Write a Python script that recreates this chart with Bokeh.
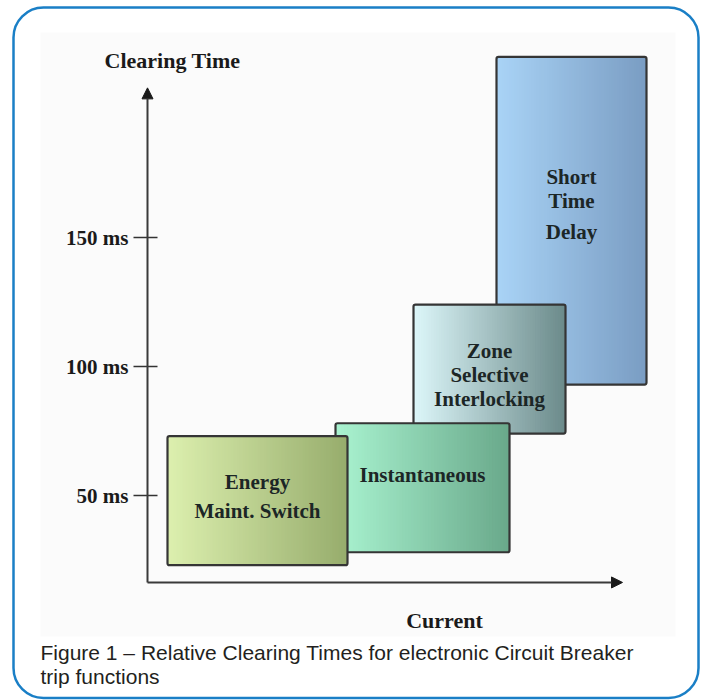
import numpy as np
from bokeh.plotting import figure
from bokeh.models import ColumnDataSource, Range1d, Arrow, NormalHead, BoxAnnotation
from bokeh.core.properties import value
from bokeh.embed import file_html
from bokeh.resources import INLINE

# ---------------- data ----------------
box_names = ["Short Time Delay", "Zone Selective Interlocking", "Instantaneous", "Energy Maint. Switch"]
label_lines = [["Short", "Time", "Delay"],
               ["Zone", "Selective", "Interlocking"],
               ["Instantaneous"],
               ["Energy", "Maint. Switch"]]
current_start = [34.9, 26.6, 18.8, 2.0]      # relative current units
current_end = [49.9, 41.8, 36.2, 20.0]
time_min_ms = [93, 74, 28, 23]
time_max_ms = [220, 124, 78, 73]
time_ticks_ms = [50, 100, 150]
tick_labels = ["50 ms", "100 ms", "150 ms"]
time_axis_min = 16.3
time_axis_max = 208.0
current_axis_max = 47.5
y_axis_title = "Clearing Time"
x_axis_title = "Current"
caption = ["Figure 1 \u2013 Relative Clearing Times for electronic Circuit Breaker",
           "trip functions"]

# ---------------- styles / layout ----------------
left_colors = ["#a9d3f6", "#dcf6f9", "#a9f3d0", "#dcefae"]
right_colors = ["#7a9dc3", "#6c8b8b", "#6aa98b", "#97ad6d"]
label_offsets_px = [[-27, -3, 28], [-24, 0, 24], [0], [-14.5, 14.5]]
label_center_shift_px = [-17, 6, -13, -4]

FIG_W, FIG_H = 704, 700
PAGE = 0
X0_PX, PX_PER_UNIT = 147.0, 10.0
Y100_PX, PX_PER_MS = 366.0, 2.58


def cx(px):
    return (px - X0_PX) / PX_PER_UNIT


def cy(py):
    return 100.0 + (Y100_PX - py) / PX_PER_MS


p = figure(width=FIG_W, height=FIG_H, output_backend="svg", toolbar_location=None,
           x_range=Range1d(cx(PAGE), cx(PAGE + FIG_W)),
           y_range=Range1d(cy(PAGE + FIG_H), cy(PAGE)),
           min_border=0, min_border_left=0, min_border_right=0,
           min_border_top=0, min_border_bottom=0)
p.axis.visible = False
p.grid.visible = False
p.outline_line_color = None
p.background_fill_color = "white"
p.border_fill_color = "white"

# picture panel + rounded frame
p.add_layout(BoxAnnotation(left=cx(40), right=cx(675), top=cy(32), bottom=cy(636),
                           fill_color="#fbfbfb", fill_alpha=1, line_color=None, level="underlay"))
p.add_layout(BoxAnnotation(left=cx(13), right=cx(698), top=cy(7), bottom=cy(697.5),
                           fill_alpha=0, line_color="#1a7fc6", line_alpha=1, line_width=2.5,
                           border_radius=30, level="underlay"))


def hex2rgb(h):
    h = h.lstrip("#")
    return np.array([int(h[i:i + 2], 16) for i in (0, 2, 4)], dtype=float)


N = 60
for i in range(len(box_names)):
    x0, x1 = current_start[i], current_end[i]
    edges = np.linspace(x0, x1, N + 1)
    c0, c1 = hex2rgb(left_colors[i]), hex2rgb(right_colors[i])
    t = np.linspace(0, 1, N)
    cols = ["#%02x%02x%02x" % tuple(int(round(v)) for v in (c0 + (c1 - c0) * tt)) for tt in t]
    right_edges = np.minimum(edges[1:] + 0.12, x1)
    src = ColumnDataSource(dict(left=edges[:-1], right=right_edges,
                                bottom=[time_min_ms[i]] * N, top=[time_max_ms[i]] * N, color=cols))
    p.quad(left="left", right="right", bottom="bottom", top="top", fill_color="color",
           line_color=None, source=src)
    p.quad(left=[x0], right=[x1], bottom=[time_min_ms[i]], top=[time_max_ms[i]],
           fill_color=None, line_color="#353535", line_width=2.2, border_radius=2)
    xc = (x0 + x1) / 2
    ymid = (time_min_ms[i] + time_max_ms[i]) / 2
    lx, ly, lt = [], [], []
    for line, off in zip(label_lines[i], label_offsets_px[i]):
        lx.append(xc)
        ly.append(ymid - (off + label_center_shift_px[i]) / PX_PER_MS)
        lt.append(line)
    p.text(x=lx, y=ly, text=lt, text_font=value("Liberation Serif"), text_font_style="bold",
           text_font_size="21px", text_color="#1c2626", text_align="center",
           text_baseline="middle")

# axes with arrows
head = dict(size=11, fill_color="#1a1a1a", line_color="#1a1a1a")
p.add_layout(Arrow(end=NormalHead(**head), x_start=0, y_start=time_axis_min,
                   x_end=0, y_end=time_axis_max, line_color="#3a3a3a", line_width=2))
p.add_layout(Arrow(end=NormalHead(**head), x_start=0, y_start=time_axis_min,
                   x_end=current_axis_max, y_end=time_axis_min, line_color="#3a3a3a", line_width=2))

# ticks and tick labels
p.segment(x0=[-1.4] * 3, x1=[1.0] * 3, y0=time_ticks_ms, y1=time_ticks_ms,
          line_color="#333333", line_width=1.5)
p.text(x=[-1.9] * 3, y=time_ticks_ms, text=tick_labels, text_font=value("Liberation Serif"),
       text_font_style="bold", text_font_size="21px", text_color="#1a1a1a",
       text_align="right", text_baseline="middle")

# axis titles
p.text(x=[cx(172)], y=[cy(60)], text=[y_axis_title], text_font=value("Liberation Serif"),
       text_font_style="bold", text_font_size="22px", text_color="#1a1a1a",
       text_align="center", text_baseline="middle")
p.text(x=[cx(444)], y=[cy(620)], text=[x_axis_title], text_font=value("Liberation Serif"),
       text_font_style="bold", text_font_size="22px", text_color="#1a1a1a",
       text_align="center", text_baseline="middle")

# caption
p.text(x=[cx(40), cx(40)], y=[cy(652), cy(676)], text=caption,
       text_font=value("Liberation Sans"), text_font_size="21px",
       text_color="#231f20", text_align="left", text_baseline="alphabetic")

open("out.html", "w").write(file_html(p, INLINE))
